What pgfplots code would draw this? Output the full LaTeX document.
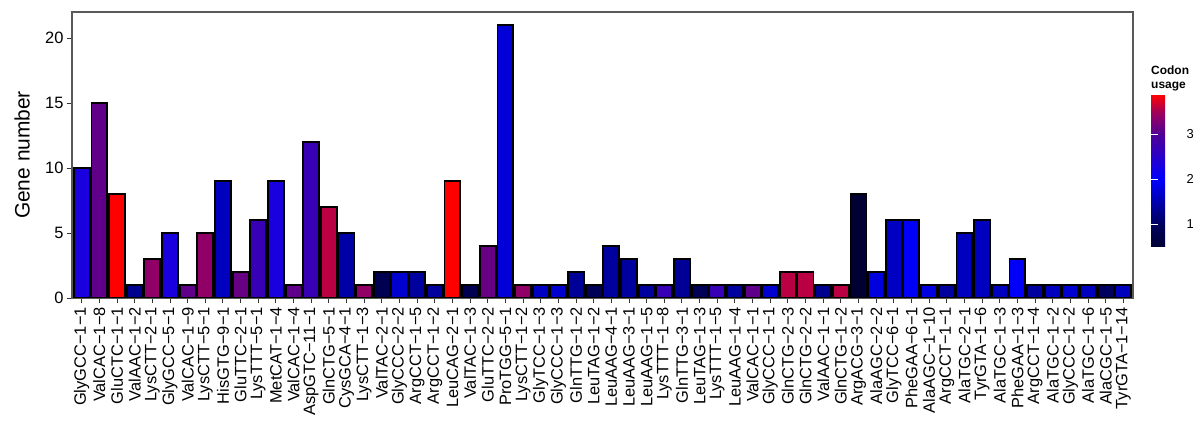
\documentclass[border=0pt]{standalone}
\usepackage{fontspec}
\setmainfont{Liberation Sans}
\usepackage{pgfplots}
\usepackage{pgfplotstable}
\pgfplotsset{compat=1.18}

% navy -> blue -> purple -> red, positions scaled by 100
\pgfplotsset{colormap={codon}{rgb255(49pt)=(0,0,51) rgb255(100pt)=(0,0,95) rgb255(200pt)=(0,0,255) rgb255(300pt)=(80,0,150) rgb255(350pt)=(160,0,90) rgb255(388pt)=(255,0,0)}}

% index, gene number, codon usage
\pgfplotstableread{
x y c
1 10 2.3
2 15 3.1
3 8 3.88
4 1 1.3
5 3 3.4
6 5 2.3
7 1 3.1
8 5 3.4
9 9 1.6
10 2 3.15
11 6 2.7
12 9 2.3
13 1 3.1
14 12 2.7
15 7 3.6
16 5 1.45
17 1 3.4
18 2 0.83
19 2 1.7
20 2 1.4
21 1 1.4
22 9 3.88
23 1 0.83
24 4 3.15
25 21 1.75
26 1 3.4
27 1 1.62
28 1 1.7
29 2 1.35
30 1 0.9
31 4 1.4
32 3 1.4
33 1 1.4
34 1 2.7
35 3 1.35
36 1 0.9
37 1 2.7
38 1 1.4
39 1 3.1
40 1 1.7
41 2 3.6
42 2 3.6
43 1 1.3
44 1 3.6
45 8 0.49
46 2 1.8
47 6 1.62
48 6 1.95
49 1 1.8
50 1 1.4
51 5 1.6
52 6 1.6
53 1 1.6
54 3 1.95
55 1 1.4
56 1 1.6
57 1 1.7
58 1 1.6
59 1 1.0
60 1 1.6
}\genedata

% one fill colour per bar, looked up in the colormap from the codon usage
\pgfplotsinvokeforeach{0,...,59}{%
  \pgfplotstablegetelem{#1}{c}\of\genedata
  \let\cval\pgfplotsretval
  \pgfplotscolormapaccess[0.49:3.88]{\cval}{codon}%
  \edef\barspec{\pgfmathresult}%
  \edef\dodef{\noexpand\xglobal\noexpand\definecolor{bar#1}{rgb}{\barspec}}%
  \dodef
}

\begin{document}
\begin{tikzpicture}
\useasboundingbox (0,0) rectangle (1195bp,429bp);
\begin{axis}[
  at={(72bp,131bp)}, anchor=south west,
  scale only axis, width=1061bp, height=286bp,
  xmin=0.45, xmax=60.55, ymin=0, ymax=22,
  colormap name=codon,
  point meta min=0.49, point meta max=3.88,
  xtick={1,...,60},
  xticklabels={GlyGCC−1−1,ValCAC−1−8,GluCTC−1−1,ValAAC−1−2,LysCTT−2−1,GlyGCC−5−1,ValCAC−1−9,LysCTT−5−1,HisGTG−9−1,GluTTC−2−1,LysTTT−5−1,MetCAT−1−4,ValCAC−1−4,AspGTC−11−1,GlnCTG−5−1,CysGCA−4−1,LysCTT−1−3,ValTAC−2−1,GlyCCC−2−2,ArgCCT−1−5,ArgCCT−1−2,LeuCAG−2−1,ValTAC−1−3,GluTTC−2−2,ProTGG−5−1,LysCTT−1−2,GlyTCC−1−3,GlyCCC−1−3,GlnTTG−1−2,LeuTAG−1−2,LeuAAG−4−1,LeuAAG−3−1,LeuAAG−1−5,LysTTT−1−8,GlnTTG−3−1,LeuTAG−1−3,LysTTT−1−5,LeuAAG−1−4,ValCAC−1−1,GlyCCC−1−1,GlnCTG−2−3,GlnCTG−2−2,ValAAC−1−1,GlnCTG−1−2,ArgACG−3−1,AlaAGC−2−2,GlyTCC−6−1,PheGAA−6−1,AlaAGC−1−10,ArgCCT−1−1,AlaTGC−2−1,TyrGTA−1−6,AlaTGC−1−3,PheGAA−1−3,ArgCCT−1−4,AlaTGC−1−2,GlyCCC−1−2,AlaTGC−1−6,AlaCGC−1−5,TyrGTA−1−14},
  ytick={0,5,10,15,20},
  tick pos=left, tick align=outside,
  major tick length=5bp,
  tick style={black!80, line width=0.9bp},
  axis line style={black!65, line width=1.3bp},
  /pgf/number format/assume math mode=true,
  tick label style={font=\fontsize{16.5}{16.5}\selectfont, black},
  x tick label style={rotate=90, anchor=east, inner sep=1bp},
  xticklabel shift=3bp,
  ylabel={Gene number},
  ylabel style={font=\fontsize{21}{21}\selectfont,
    at={(axis description cs:-0.047,0.5)}, anchor=center},
  colorbar right,
  colorbar style={
    at={(1.017,0.71)}, anchor=north west,
    scale only axis, width=31bp, height=152bp,
    ytick={1,2,3},
    yticklabel pos=right,
    tick pos=both, tick align=inside,
    major tick length=6.5bp,
    tick style={white, line width=0.8bp},
    axis line style={draw=none},
    /pgf/number format/assume math mode=true,
    tick label style={font=\fontsize{13}{13}\selectfont, black},
    yticklabel shift=1bp,
  },
]
\pgfplotsinvokeforeach{0,...,59}{%
  \pgfplotstablegetelem{#1}{x}\of\genedata \let\xv\pgfplotsretval
  \pgfplotstablegetelem{#1}{y}\of\genedata \let\yv\pgfplotsretval
  \edef\dobar{\noexpand\addplot[ybar, bar width=0.9, bar shift=0pt,
    draw=black, line width=1.8bp, fill=bar#1] coordinates {(\xv,\yv)};}%
  \dobar
}
\end{axis}
\node[anchor=south west, inner sep=0pt, align=left,
  font=\bfseries\fontsize{12}{14}\selectfont] at (1151bp,338bp) {Codon\\usage};
\end{tikzpicture}
\end{document}
